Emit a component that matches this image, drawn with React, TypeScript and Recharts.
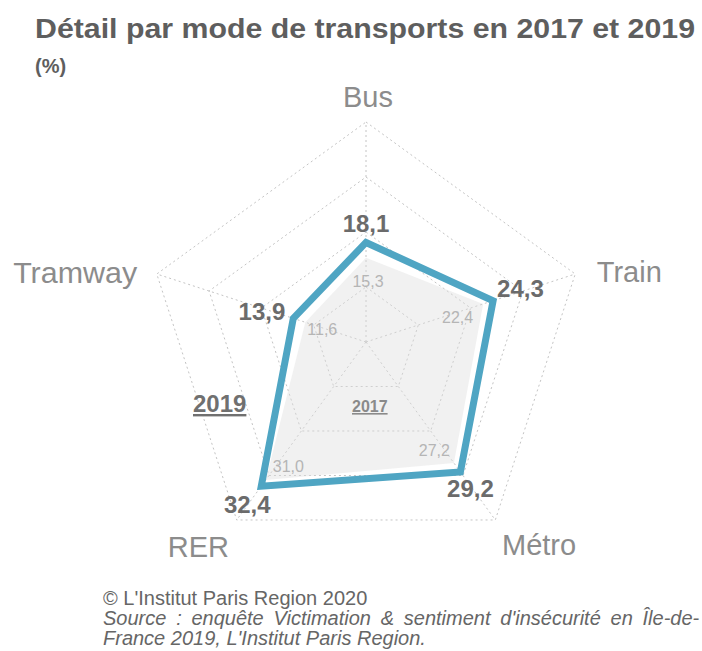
import {
	RadarChart,
	Radar,
	PolarGrid,
	PolarAngleAxis,
	PolarRadiusAxis,
	LabelList,
} from "recharts";

const modes = ["Bus", "Train", "Métro", "RER", "Tramway"];
const values2017 = [15.3, 22.4, 27.2, 31.0, 11.6];
const values2019 = [18.1, 24.3, 29.2, 32.4, 13.9];

const data = modes.map((mode, i) => ({
	mode,
	y2017: values2017[i],
	y2019: values2019[i],
}));

const fmt = (v: number) => v.toFixed(1).replace(".", ",");

// label placement relative to the point the library gives, per axis
const tickOffsets: any[] = [
	{ dx: 2, dy: -7, anchor: "middle" },
	{ dx: 14, dy: 10, anchor: "start" },
	{ dx: 2, dy: 29, anchor: "start" },
	{ dx: -3, dy: 31, anchor: "end" },
	{ dx: -12, dy: 11, anchor: "end", len: 124 },
];
const offsets2019 = [
	{ dx: 0, dy: -10, anchor: "middle" },
	{ dx: 4, dy: -4, anchor: "start" },
	{ dx: 10, dy: 25, anchor: "middle" },
	{ dx: -14, dy: 27, anchor: "middle" },
	{ dx: -8, dy: 2, anchor: "end" },
];
const offsets2017 = [
	{ dx: 2, dy: 29, anchor: "middle" },
	{ dx: -10, dy: 19, anchor: "end" },
	{ dx: -4, dy: -7, anchor: "end" },
	{ dx: 7, dy: -8, anchor: "start" },
	{ dx: 2, dy: 13, anchor: "start" },
];

const BLUE = "#4fa5c3";
const FONT = "Liberation Sans, Arial, sans-serif";

function AxisTick(props: any) {
	const { x, y, payload, index } = props;
	const o = tickOffsets[index] || { dx: 0, dy: 0, anchor: "middle" };
	return (
		<text
			x={x + o.dx}
			y={y + o.dy}
			textAnchor={o.anchor}
			fontSize={29}
			fill="#8c8c8c"
			fontFamily={FONT}
			textLength={o.len}
			lengthAdjust={o.len ? "spacingAndGlyphs" : undefined}
		>
			{payload.value}
		</text>
	);
}

function makeLabel(offsets: any[], size: number, color: string, bold: boolean) {
	return (props: any) => {
		const { x, y, value, index } = props;
		const o = offsets[index] || { dx: 0, dy: 0, anchor: "middle" };
		return (
			<text
				x={x + o.dx}
				y={y + o.dy}
				textAnchor={o.anchor}
				fontSize={size}
				fontWeight={bold ? "bold" : "normal"}
				fill={color}
				fontFamily={FONT}
			>
				{fmt(value)}
			</text>
		);
	};
}

export default function App() {
	return (
		<div
			style={{
				position: "absolute",
				left: 0,
				top: 0,
				width: 702,
				height: 651,
				background: "#fff",
				fontFamily: FONT,
			}}
		>
			<RadarChart
				width={702}
				height={651}
				cx={366}
				cy={342}
				outerRadius={220}
				data={data}
				margin={{ top: 0, right: 0, bottom: 0, left: 0 }}
			>
				<PolarGrid
					gridType="polygon"
					stroke="#c4c4c4"
					strokeDasharray="2 3"
				/>
				<PolarRadiusAxis
					domain={[0, 40]}
					tickCount={5}
					tick={false}
					axisLine={false}
				/>
				<PolarAngleAxis
					dataKey="mode"
					tick={AxisTick}
					tickLine={false}
					axisLine={false}
				/>
				<Radar
					dataKey="y2017"
					fill="#dedede"
					fillOpacity={0.42}
					stroke="none"
					dot={false}
					isAnimationActive={false}
				>
					<LabelList
						dataKey="y2017"
						content={makeLabel(offsets2017, 16, "#b5b5b5", false)}
					/>
				</Radar>
				<Radar
					dataKey="y2019"
					fill="none"
					fillOpacity={0}
					stroke={BLUE}
					strokeWidth={7}
					strokeLinejoin="miter"
					dot={false}
					isAnimationActive={false}
				>
					<LabelList
						dataKey="y2019"
						content={makeLabel(offsets2019, 24, "#6b6b6b", true)}
					/>
				</Radar>
			</RadarChart>
			<svg
				width={702}
				height={651}
				style={{ position: "absolute", left: 0, top: 0, pointerEvents: "none" }}
			>
				<text
					x={35}
					y={38}
					fontSize={27}
					fontWeight="bold"
					fill="#5e5e5e"
					fontFamily={FONT}
					textLength={660}
					lengthAdjust="spacingAndGlyphs"
				>
					Détail par mode de transports en 2017 et 2019
				</text>
				<text x={35} y={73} fontSize={20} fontWeight="bold" fill="#5e5e5e" fontFamily={FONT}>
					(%)
				</text>
				<text
					x={193}
					y={412}
					fontSize={24}
					fontWeight="bold"
					fill="#707070"
					textDecoration="underline"
					fontFamily={FONT}
				>
					2019
				</text>
				<text
					x={352}
					y={412}
					fontSize={16}
					fontWeight="bold"
					fill="#8a8a8a"
					textDecoration="underline"
					fontFamily={FONT}
				>
					2017
				</text>
				<text x={103} y={605} fontSize={20} fill="#666" fontFamily={FONT}>
					© L'Institut Paris Region 2020
				</text>
				<text
					x={103}
					y={625}
					fontSize={20}
					fontStyle="italic"
					fill="#666"
					fontFamily={FONT}
					wordSpacing={4.2}
				>
					Source : enquête Victimation &amp; sentiment d'insécurité en Île-de-
				</text>
				<text x={103} y={645} fontSize={20} fontStyle="italic" fill="#666" fontFamily={FONT}>
					France 2019, L'Institut Paris Region.
				</text>
			</svg>
		</div>
	);
}
